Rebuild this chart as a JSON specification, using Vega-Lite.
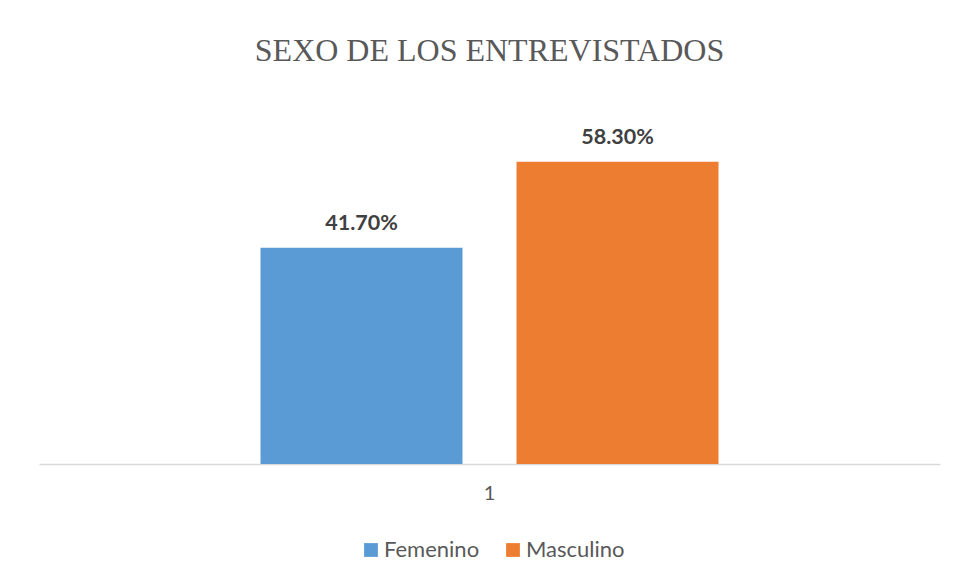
{
  "$schema": "https://vega.github.io/schema/vega-lite/v6.json",
  "width": 901,
  "height": 363,
  "autosize": {"type": "none"},
  "padding": {"left": 39, "top": 101, "right": 17, "bottom": 116},
  "background": "#ffffff",
  "title": {
    "text": "SEXO DE LOS ENTREVISTADOS",
    "font": "Liberation Serif",
    "fontSize": 32,
    "fontWeight": "normal",
    "color": "#595959",
    "anchor": "middle",
    "offset": 33
  },
  "data": {
    "values": [
      {"grupo": "1", "sexo": "Femenino", "valor": 0.417},
      {"grupo": "1", "sexo": "Masculino", "valor": 0.583}
    ]
  },
  "encoding": {
    "x": {
      "field": "grupo",
      "type": "nominal",
      "title": null,
      "scale": {"paddingInner": 0, "paddingOuter": 0.4836},
      "axis": {
        "labelAngle": 0,
        "ticks": false,
        "domainColor": "#D9D9D9",
        "domainWidth": 1.5,
        "labelFont": "Lato",
        "labelFontSize": 20,
        "labelColor": "#595959",
        "labelPadding": 19
      }
    },
    "xOffset": {
      "field": "sexo",
      "type": "nominal",
      "scale": {"paddingInner": 0.211, "paddingOuter": 0}
    },
    "y": {
      "field": "valor",
      "type": "quantitative",
      "scale": {"domain": [0, 0.7]},
      "axis": null
    }
  },
  "layer": [
    {
      "mark": {"type": "bar"},
      "encoding": {
        "color": {
          "field": "sexo",
          "type": "nominal",
          "scale": {"domain": ["Femenino", "Masculino"], "range": ["#5B9BD5", "#ED7D31"]},
          "legend": {
            "title": null,
            "orient": "none",
            "legendX": 321,
            "legendY": 438,
            "direction": "horizontal",
            "symbolType": "square",
            "symbolSize": 190,
            "symbolStrokeWidth": 0,
            "labelFont": "Lato",
            "labelFontSize": 22,
            "labelColor": "#595959",
            "labelOffset": 2,
            "columnPadding": 22
          }
        }
      }
    },
    {
      "mark": {
        "type": "text",
        "dy": -18,
        "baseline": "alphabetic",
        "font": "Lato",
        "fontSize": 21.5,
        "fontWeight": "bold",
        "color": "#404040"
      },
      "encoding": {
        "text": {"field": "valor", "type": "quantitative", "format": ".2%"}
      }
    }
  ],
  "config": {
    "view": {"stroke": null},
    "axis": {"grid": false}
  }
}
